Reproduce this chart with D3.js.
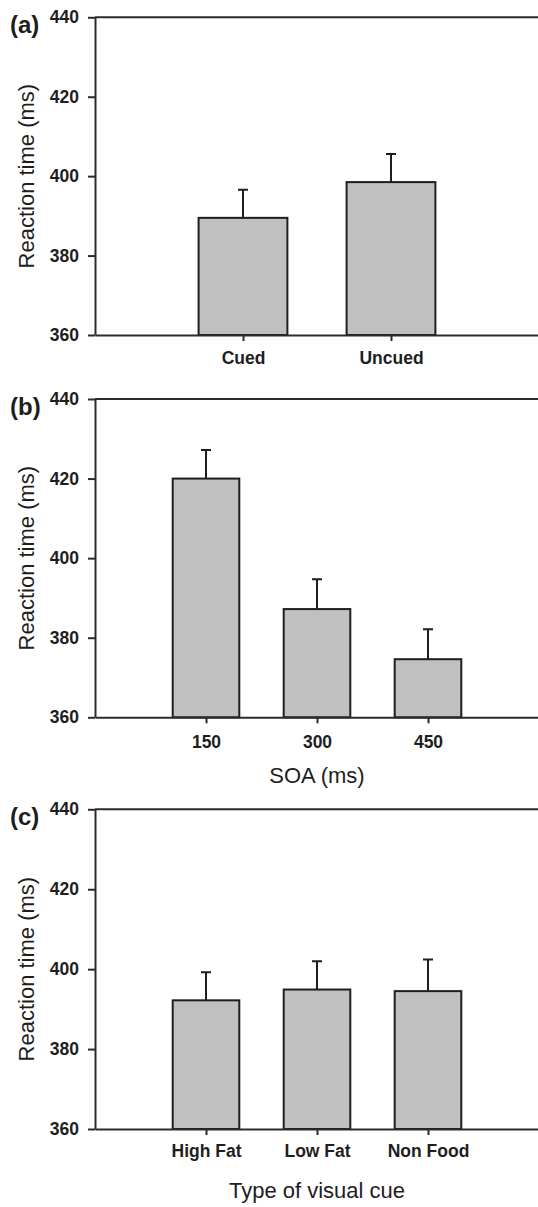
<!DOCTYPE html>
<html>
<head>
<meta charset="utf-8">
<script src="https://cdn.jsdelivr.net/npm/d3@7/dist/d3.min.js"></script>
<style>
  body { margin: 0; background: #fff; }
  svg text { font-family: "Liberation Sans", Arial, sans-serif; fill: #1e1e1e; }
  .axis path, .axis line { stroke: #2b2b2b; stroke-width: 2; }
  .axis .tick text { font-weight: bold; font-size: 17.5px; }
  .ylab, .xlab { font-size: 22px; }
  .panel { font-weight: bold; font-size: 24px; }
  .bar { fill: #c0c0c0; stroke: #1e1e1e; stroke-width: 2; }
  .err { stroke: #1e1e1e; stroke-width: 2; fill: none; }
</style>
</head>
<body>
<script>
// set up SVG
var w = 538;
var h = 1207;

// values (reaction time, ms)
var catsA = ["Cued", "Uncued"];
var meansA = [389.5, 398.5];
var errA = [7.1, 7.1];

var catsB = ["150", "300", "450"];
var meansB = [420.0, 387.2, 374.6];
var errB = [7.2, 7.5, 7.5];

var catsC = ["High Fat", "Low Fat", "Non Food"];
var meansC = [392.2, 394.9, 394.5];
var errC = [7.0, 7.1, 7.9];

var yTicks = [360, 380, 400, 420, 440];
var yDomain = [360, 440];

// horizontal extent of every plot (right edge falls just outside the picture)
var pdL = 95;
var pdR = 539;

var svg = d3.select("body")
            .append("svg")
            .attr("width", w)
            .attr("height", h);

// one panel = frame, bars, error bars, axes, labels
var drawPanel = function(p) {

    var g = svg.append("g");

    var scaleY = d3.scaleLinear()
                   .domain(yDomain)
                   .range([p.bottom, p.top]);
    var scaleX = d3.scalePoint()
                   .domain(p.cats)
                   .range([pdL, pdR])
                   .padding(1);
    var barW = scaleX.step() * 0.6;

    var rows = p.cats.map(function(c, i) {
        return { cat: c, mean: p.means[i], err: p.errs[i] };
    });

    // bars
    g.selectAll("rect.bar")
     .data(rows)
     .enter()
     .append("rect")
     .attr("class", "bar")
     .attr("x", function(d) { return scaleX(d.cat) - barW/2; })
     .attr("y", function(d) { return scaleY(d.mean); })
     .attr("width", barW)
     .attr("height", function(d) { return scaleY(yDomain[0]) - scaleY(d.mean); });

    // error bars (upper only)
    g.selectAll("path.err")
     .data(rows)
     .enter()
     .append("path")
     .attr("class", "err")
     .attr("d", function(d) {
         var x = scaleX(d.cat);
         var y0 = scaleY(d.mean);
         var y1 = scaleY(d.mean + d.err);
         return "M" + x + "," + y0 + "V" + y1 + "M" + (x-5) + "," + y1 + "H" + (x+5);
     });

    // top frame line
    g.append("line")
     .attr("class", "err")
     .attr("x1", pdL)
     .attr("x2", pdR)
     .attr("y1", scaleY(yDomain[1]))
     .attr("y2", scaleY(yDomain[1]))
     .style("stroke", "#2b2b2b");

    // axes
    var axisY = d3.axisLeft(scaleY)
                  .tickValues(yTicks)
                  .tickSize(7)
                  .tickSizeOuter(0)
                  .tickPadding(9);
    g.append("g")
     .attr("class", "axis")
     .attr("transform", "translate(" + pdL + ",0)")
     .call(axisY);

    var axisX = d3.axisBottom(scaleX)
                  .tickSize(6)
                  .tickSizeOuter(0)
                  .tickPadding(p.xPad);
    g.append("g")
     .attr("class", "axis")
     .attr("transform", "translate(0," + p.bottom + ")")
     .call(axisX);

    g.selectAll(".axis .domain").attr("stroke", "#2b2b2b");
    g.selectAll(".axis text").attr("fill", "#1e1e1e");

    // y title
    g.append("text")
     .attr("class", "ylab")
     .attr("text-anchor", "middle")
     .attr("transform", "translate(34," + ((p.top + p.bottom)/2) + ") rotate(-90)")
     .text("Reaction time (ms)");

    // panel letter
    g.append("text")
     .attr("class", "panel")
     .attr("x", 10)
     .attr("y", p.top + 16)
     .text(p.letter);

    // x title
    if (p.xTitle) {
        g.append("text")
         .attr("class", "xlab")
         .attr("text-anchor", "middle")
         .attr("x", (pdL + pdR)/2)
         .attr("y", p.xTitleY)
         .text(p.xTitle);
    }
};

drawPanel({ letter: "(a)", top: 17.3, bottom: 335, cats: catsA, means: meansA, errs: errA, xPad: 11 });
drawPanel({ letter: "(b)", top: 399, bottom: 717.3, cats: catsB, means: meansB, errs: errB, xPad: 12,
            xTitle: "SOA (ms)", xTitleY: 783 });
drawPanel({ letter: "(c)", top: 809.3, bottom: 1129, cats: catsC, means: meansC, errs: errC, xPad: 10,
            xTitle: "Type of visual cue", xTitleY: 1198 });
</script>
</body>
</html>
